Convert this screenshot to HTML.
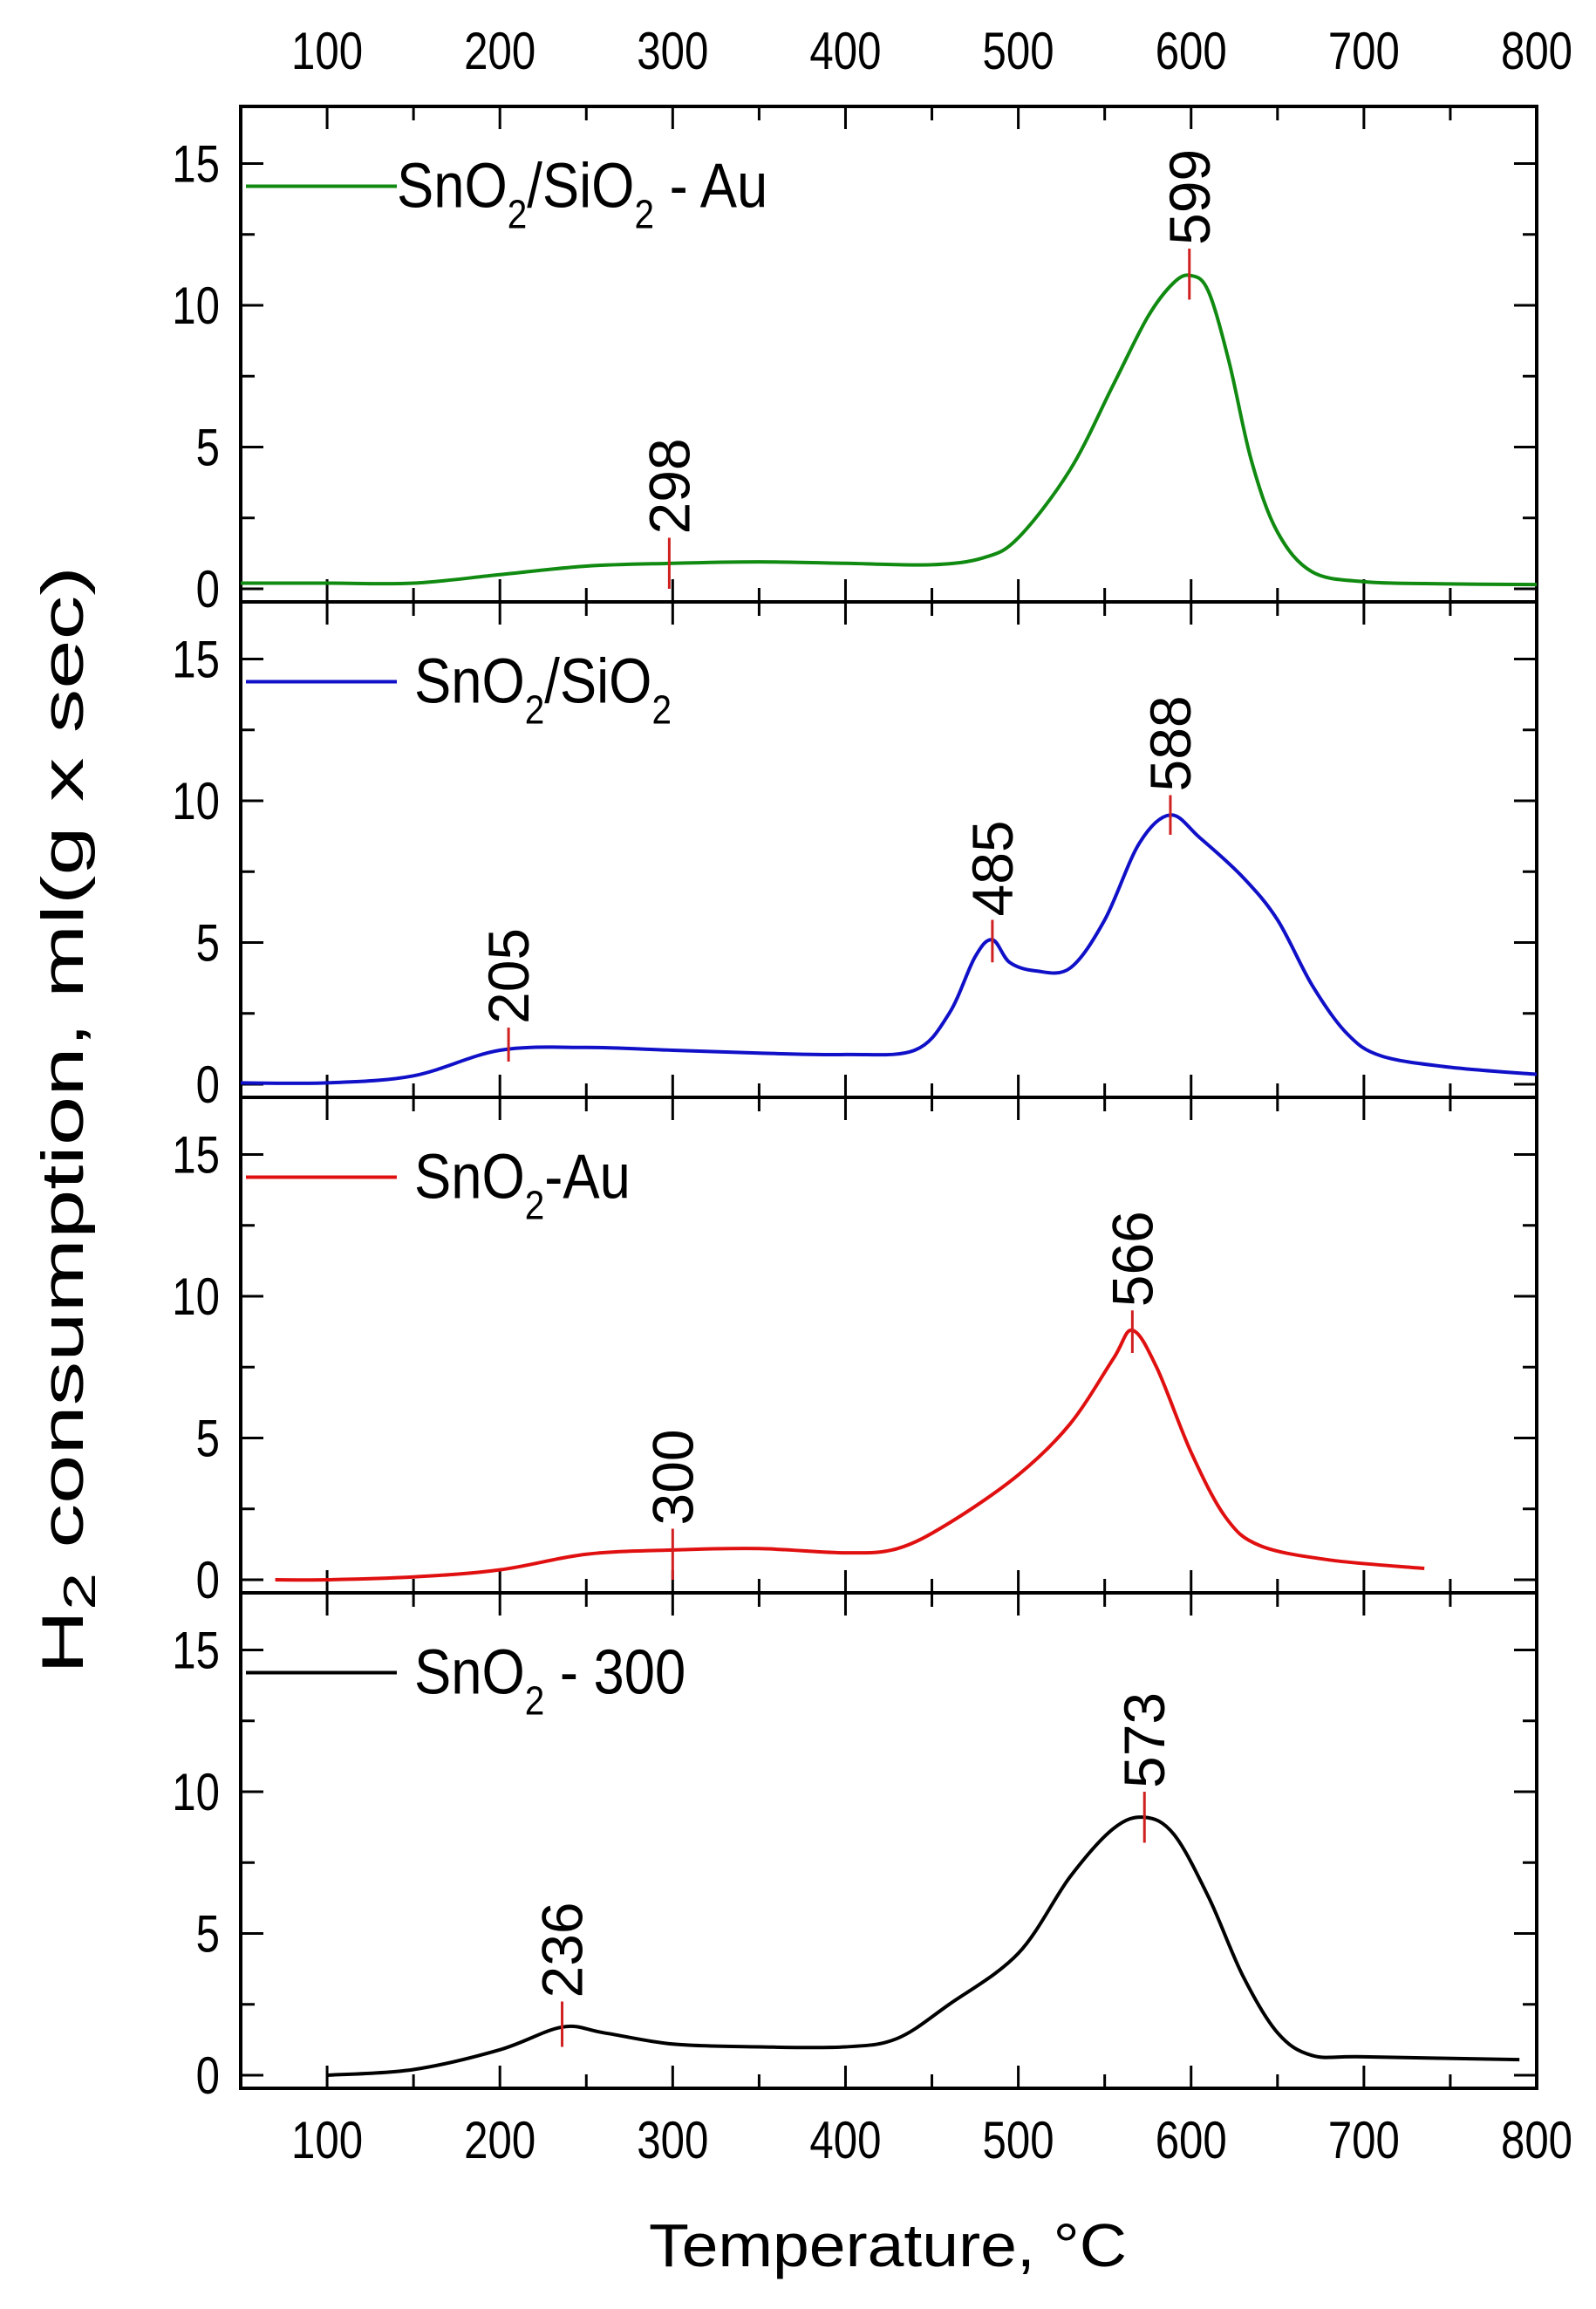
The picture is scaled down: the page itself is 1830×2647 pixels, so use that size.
<!DOCTYPE html>
<html><head><meta charset="utf-8"><style>
html,body{margin:0;padding:0;background:#fff}
svg{display:block}
text{font-family:"Liberation Sans",Arial,sans-serif;fill:#000}
</style></head><body>
<svg id="s" width="1830" height="2647" viewBox="0 0 1830 2647" xmlns="http://www.w3.org/2000/svg">
<rect width="1830" height="2647" fill="#fff"/>
<g id="g"></g>
<text x="1018" y="2598" font-size="70" text-anchor="middle" textLength="548" lengthAdjust="spacingAndGlyphs">Temperature, °C</text>
<text transform="translate(95,1284) rotate(-90)" font-size="68" text-anchor="middle" textLength="1270" lengthAdjust="spacingAndGlyphs">H<tspan font-size="52" dy="14">2</tspan><tspan dy="-14"> consumption, ml(g x sec)</tspan></text>
</svg>
<script>
var L=276,R=1762,top0=122,H=568;
function X(t){return L+(t-50)*(R-L)/750;}
var g=document.getElementById('g'),out='';
function Yf(i){var b=top0+H*(i+1);return function(v){return b-15-v*32.5;};}
function path(pts,Y){var p=pts.map(function(a){return [X(a[0]),Y(a[1])];});
 var d='M'+p[0][0].toFixed(1)+','+p[0][1].toFixed(1);
 for(var i=0;i<p.length-1;i++){var p0=p[i-1]||p[i],p1=p[i],p2=p[i+1],p3=p[i+2]||p2;
  var c1=[p1[0]+(p2[0]-p0[0])/6,p1[1]+(p2[1]-p0[1])/6],c2=[p2[0]-(p3[0]-p1[0])/6,p2[1]-(p3[1]-p1[1])/6];
  d+='C'+c1[0].toFixed(1)+','+c1[1].toFixed(1)+' '+c2[0].toFixed(1)+','+c2[1].toFixed(1)+' '+p2[0].toFixed(1)+','+p2[1].toFixed(1);}
 return d;}
function lab(x,y,s,anchor){return '<text transform="translate('+x+','+y+') scale(0.82,1)" font-size="60" text-anchor="'+anchor+'">'+s+'</text>';}
var panels=[
{c:'#108a10',leg:['SnO','2','/SiO','2',' - Au'],pts:[[50,0.2],[100,0.2],[150,0.2],[200,0.5],[250,0.8],[300,0.9],[350,0.95],[400,0.9],[450,0.85],[480,1.1],[500,1.8],[530,4.2],[555,7.2],[575,9.6],[590,10.8],[600,11.05],[610,10.5],[622,8],[635,4.5],[650,2],[670,0.6],[700,0.25],[740,0.18],[800,0.15]],
 pk:[[298,0,1.8],[599,10.2,12]]},
{c:'#1010c8',leg:['SnO','2','/SiO','2',''],pts:[[50,0.05],[100,0.05],[150,0.3],[200,1.2],[250,1.3],[300,1.2],[350,1.1],[400,1.05],[440,1.2],[460,2.5],[475,4.5],[485,5.1],[495,4.3],[510,4.0],[530,4.1],[550,5.8],[570,8.5],[588,9.5],[605,8.7],[630,7.3],[650,5.8],[670,3.5],[690,1.8],[710,1.0],[750,0.6],[800,0.35]],
 pk:[[205,0.8,2.0],[485,4.3,5.8],[588,8.8,10.2]]},
{c:'#e01010',leg:['SnO','2','-Au','',''],pts:[[70,0],[100,0],[150,0.1],[200,0.35],[250,0.9],[300,1.05],[350,1.1],[400,0.95],[430,1.1],[460,2],[500,3.7],[530,5.5],[555,7.8],[566,8.8],[580,7.5],[600,4.5],[620,2.2],[640,1.2],[680,0.7],[735,0.4]],
 pk:[[300,0,1.8],[566,8,9.5]]},
{c:'#000',leg:['SnO','2',' - 300','',''],pts:[[100,0],[150,0.2],[200,0.9],[236,1.7],[260,1.5],[300,1.1],[350,1.0],[400,1.0],[430,1.3],[460,2.5],[500,4.3],[530,7],[555,8.7],[573,9.1],[590,8.5],[610,6.3],[630,3.5],[650,1.5],[670,0.7],[700,0.65],[790,0.55]],
 pk:[[236,1,2.6],[573,8.2,10]]}];
panels.forEach(function(P,i){var Y=Yf(i),t=top0+H*i,b=t+H;
 out+='<rect x="'+L+'" y="'+t+'" width="'+(R-L)+'" height="'+H+'" fill="none" stroke="#000" stroke-width="4"/>';
 for(var v=50;v<=800;v+=50){var x=X(v),len=(v%100==0)?26:16;
  out+='<line x1="'+x+'" y1="'+t+'" x2="'+x+'" y2="'+(t+len)+'" stroke="#000" stroke-width="3"/>';
  out+='<line x1="'+x+'" y1="'+b+'" x2="'+x+'" y2="'+(b-len)+'" stroke="#000" stroke-width="3"/>';}
 for(var v=0;v<=17;v+=2.5){var y=Y(v),len=(v%5==0)?26:16;
  out+='<line x1="'+L+'" y1="'+y+'" x2="'+(L+len)+'" y2="'+y+'" stroke="#000" stroke-width="3"/>';
  out+='<line x1="'+R+'" y1="'+y+'" x2="'+(R-len)+'" y2="'+y+'" stroke="#000" stroke-width="3"/>';
  if(v%5==0)out+=lab(252,y+21,v,'end');}
 out+='<path d="'+path(P.pts,Y)+'" fill="none" stroke="'+P.c+'" stroke-width="4"/>';
 var ly=Y(14.2);
 out+='<line x1="282" y1="'+ly+'" x2="455" y2="'+ly+'" stroke="'+P.c+'" stroke-width="4"/>';
 var l=P.leg,tx=i==0?455:475;
 out+='<text transform="translate('+tx+','+(ly+24)+') scale(0.88,1)" font-size="72">'+l[0]+'<tspan font-size="46" dy="24">'+l[1]+'</tspan><tspan dy="-24">'+l[2]+'</tspan>'+(l[3]?'<tspan font-size="46" dy="24">'+l[3]+'</tspan><tspan dy="-24">'+l[4]+'</tspan>':'')+'</text>';
 P.pk.forEach(function(k){var x=X(k[0]);
  out+='<line x1="'+x+'" y1="'+Y(k[1])+'" x2="'+x+'" y2="'+Y(k[2])+'" stroke="#d02020" stroke-width="3"/>';
  out+='<text transform="translate('+(x+23)+','+(Y(k[2])-4)+') rotate(-90)" font-size="66">'+k[0]+'</text>';});
});
[100,200,300,400,500,600,700,800].forEach(function(v){var x=X(v);
 out+=lab(x,79,v,'middle');
 out+=lab(x,2474,v,'middle');});
g.innerHTML=out;
</script>
</body></html>
